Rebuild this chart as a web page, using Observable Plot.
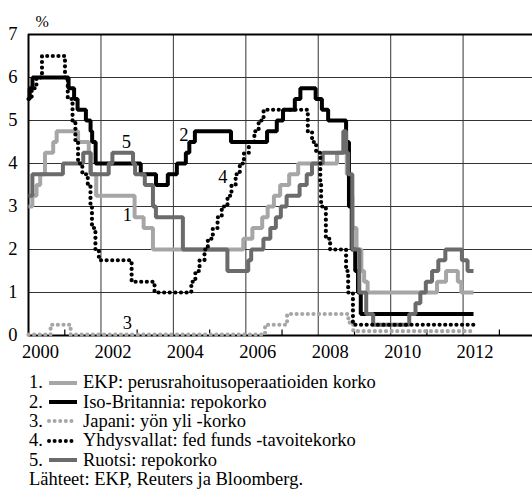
<!DOCTYPE html>
<html><head><meta charset="utf-8">
<script src="https://cdn.jsdelivr.net/npm/d3@7"></script>
<script src="https://cdn.jsdelivr.net/npm/@observablehq/plot@0.6"></script>
<style>
body{margin:0;background:#fff;font-family:'Liberation Serif';}
#wrap{position:relative;width:532px;height:499px;overflow:hidden;font-family:'Liberation Serif';}
svg text, svg{font-family:'Liberation Serif' !important;}
#legend{position:absolute;left:29px;top:373px;font-size:18.5px;color:#000;font-family:'Liberation Serif';}
.row{height:19.4px;display:flex;align-items:center;white-space:nowrap;}
.row .n{width:18px;}
.row svg{margin:0 4px 0 0;}
</style></head><body><div id="wrap"><div id="chart"></div><div id="legend"></div></div>
<script>
// ---- data ----
const endDate = "2012-04-15";
const ecbDates = ["2000-01-01","2000-02-09","2000-03-22","2000-04-28","2000-06-15","2000-09-06","2000-10-11","2001-05-15","2001-08-31","2001-09-18","2001-11-14","2002-12-06","2003-03-07","2003-06-09","2005-12-06","2006-03-08","2006-06-15","2006-08-09","2006-10-11","2006-12-13","2007-03-14","2007-06-13","2008-07-09","2008-10-15","2008-11-12","2008-12-10","2009-01-21","2009-03-11","2009-04-08","2009-05-13","2011-04-13","2011-07-13","2011-11-09","2011-12-14"];
const ecbRates = [3.00,3.25,3.50,3.75,4.25,4.50,4.75,4.50,4.25,3.75,3.25,2.75,2.50,2.00,2.25,2.50,2.75,3.00,3.25,3.50,3.75,4.00,4.25,3.75,3.25,2.50,2.00,1.50,1.25,1.00,1.25,1.50,1.25,1.00];
const ukDates = ["2000-01-01","2000-01-13","2000-02-10","2001-02-08","2001-04-05","2001-05-10","2001-08-02","2001-09-18","2001-10-04","2001-11-08","2003-02-06","2003-07-10","2003-11-06","2004-02-05","2004-05-06","2004-06-10","2004-08-05","2005-08-04","2006-08-03","2006-11-09","2007-01-11","2007-05-10","2007-07-05","2007-12-06","2008-02-07","2008-04-10","2008-10-08","2008-11-06","2008-12-04","2009-01-08","2009-02-05","2009-03-05"];
const ukRates = [5.50,5.75,6.00,5.75,5.50,5.25,5.00,4.75,4.50,4.00,3.75,3.50,3.75,4.00,4.25,4.50,4.75,4.50,4.75,5.00,5.25,5.50,5.75,5.50,5.25,5.00,4.50,3.00,2.00,1.50,1.00,0.50];
const jpDates = ["2000-01-01","2000-08-11","2001-03-01","2006-07-14","2007-02-21","2008-10-31","2008-12-19"];
const jpRates = [0.02,0.25,0.02,0.25,0.50,0.30,0.10];
const usDates = ["2000-01-01","2000-02-02","2000-03-21","2000-05-16","2001-01-03","2001-01-31","2001-03-20","2001-04-18","2001-05-15","2001-06-27","2001-08-21","2001-09-17","2001-10-02","2001-11-06","2001-12-11","2002-11-06","2003-06-25","2004-06-30","2004-08-10","2004-09-21","2004-11-10","2004-12-14","2005-02-02","2005-03-22","2005-05-03","2005-06-30","2005-08-09","2005-09-20","2005-11-01","2005-12-13","2006-01-31","2006-03-28","2006-05-10","2006-06-29","2007-09-18","2007-10-31","2007-12-11","2008-01-22","2008-01-30","2008-03-18","2008-04-30","2008-10-08","2008-10-29","2008-12-16"];
const usRates = [5.50,5.75,6.00,6.50,6.00,5.50,5.00,4.50,4.00,3.75,3.50,3.00,2.50,2.00,1.75,1.25,1.00,1.25,1.50,1.75,2.00,2.25,2.50,2.75,3.00,3.25,3.50,3.75,4.00,4.25,4.50,4.75,5.00,5.25,4.75,4.50,4.25,3.50,3.00,2.25,2.00,1.50,1.00,0.25];
const seDates = ["2000-01-01","2000-02-09","2000-12-13","2001-07-06","2001-09-19","2002-03-20","2002-04-26","2002-11-20","2002-12-11","2003-03-19","2003-06-09","2003-07-09","2004-04-06","2005-06-29","2006-01-25","2006-02-24","2006-06-27","2006-09-05","2006-10-31","2006-12-20","2007-02-16","2007-06-27","2007-09-07","2007-10-30","2008-02-15","2008-09-10","2008-10-08","2008-10-29","2008-12-10","2009-02-18","2009-04-29","2009-07-08","2010-07-07","2010-09-08","2010-10-27","2010-12-21","2011-02-22","2011-04-26","2011-07-06","2011-12-20","2012-02-15"];
const seRates = [3.25,3.75,4.00,4.25,3.75,4.00,4.25,4.00,3.75,3.50,3.00,2.75,2.00,1.50,1.75,2.00,2.25,2.50,2.75,3.00,3.25,3.50,3.75,4.00,4.25,4.75,4.25,3.75,2.00,1.00,0.50,0.25,0.50,0.75,1.00,1.25,1.50,1.75,2.00,1.75,1.50];
const yTicks = [0,1,2,3,4,5,6,7];
const labelYears = [2000,2002,2004,2006,2008,2010,2012];
const minorTickYears = [2001,2003,2005,2007,2009,2011,2013];
const lineLabels = ["1","2","3","4","5"];
const lineLabelDates = ["2002-09-25","2004-04-15","2002-09-25","2005-05-15","2002-09-15"];
const lineLabelValues = [2.79,4.65,0.30,3.69,4.50];
const legendTexts = ["EKP: perusrahoitusoperaatioiden korko","Iso-Britannia: repokorko","Japani: yön yli -korko","Yhdysvallat: fed funds -tavoitekorko","Ruotsi: repokorko"];
const sourceText = "Lähteet: EKP, Reuters ja Bloomberg.";

// ---- build ----
const pd = s => new Date(s + "T00:00:00Z");
function series(dates, rates){
  const a = dates.map((d,i)=>({date:pd(d), rate:rates[i]}));
  a.push({date:pd(endDate), rate:rates[rates.length-1]});
  return a;
}
const LIGHT = "#a6a6a6", DARK = "#6b6b6b";
const styles = [
  {data:series(ecbDates,ecbRates), stroke:LIGHT, dash:null},
  {data:series(ukDates,ukRates), stroke:"#000", dash:null},
  {data:series(jpDates,jpRates), stroke:LIGHT, dash:"0.01,5.6"},
  {data:series(usDates,usRates), stroke:"#000", dash:"0.01,5.6"},
  {data:series(seDates,seRates), stroke:DARK, dash:null}
];
const drawOrder = [0,2,1,4,3];
const yr = y => new Date(Date.UTC(y,0,1));
const labels = lineLabels.map((t,i)=>({t, date:pd(lineLabelDates[i]), v:lineLabelValues[i]}));
const FONT = "'Liberation Serif'";

const chart = Plot.plot({
  width: 532, height: 362,
  marginTop: 34, marginBottom: 27, marginLeft: 28, marginRight: 0,
  style: {fontFamily: FONT, fontSize: "18.5px", color: "#000", background: "#fff"},
  x: {type: "utc", domain: [yr(2000), pd("2013-12-01")]},
  y: {domain: [0, 7]},
  marks: [
    Plot.ruleY(yTicks.slice(1,7), {stroke:"#333", strokeWidth:1}),
    Plot.ruleX(labelYears.slice(1).map(yr), {stroke:"#333", strokeWidth:1}),
    Plot.ruleX(minorTickYears.map(yr), {y1:0, y2:0.13, stroke:"#000", strokeWidth:1.2}),
    Plot.ruleY([7], {stroke:"#000", strokeWidth:2}),
    Plot.ruleY([0], {stroke:"#000", strokeWidth:2}),
    Plot.ruleX([yr(2000)], {stroke:"#000", strokeWidth:2}),
    ...drawOrder.map(i => Plot.line(styles[i].data, {
      x:"date", y:"rate", curve:"step-after", stroke:styles[i].stroke,
      strokeWidth: styles[i].dash ? 4.2 : 4,
      strokeDasharray: styles[i].dash || undefined,
      strokeLinecap: styles[i].dash ? "round" : "butt",
      strokeLinejoin: "miter"
    })),
    Plot.text(labels, {x:"date", y:"v", text:"t", fontSize:18.5, fontFamily:FONT, fill:"#000"}),
    Plot.axisY(yTicks, {tickSize:0, tickPadding:11, fontSize:18.5, fontFamily:FONT}),
    Plot.axisX(labelYears.map(yr), {tickSize:0, tickPadding:9, dx:12, fontSize:18.5, fontFamily:FONT, tickFormat: d => String(d.getUTCFullYear())}),
    Plot.text(["%"], {frameAnchor:"top-left", dx:7, dy:-19, fontSize:16, fontFamily:FONT})
  ]
});
document.getElementById("chart").appendChild(chart);

// legend
const leg = document.getElementById("legend");
styles.forEach((s,i)=>{
  const row = document.createElement("div"); row.className="row";
  const n = document.createElement("span"); n.className="n"; n.textContent = (i+1)+".";
  row.appendChild(n);
  const svg = d3.create("svg").attr("width",32).attr("height",10);
  svg.append("line").attr("x1",2).attr("x2",30).attr("y1",5).attr("y2",5)
    .attr("stroke",s.stroke).attr("stroke-width",4)
    .attr("stroke-dasharray", s.dash ? "0.01,5.6" : null)
    .attr("stroke-linecap", s.dash ? "round" : "butt");
  row.appendChild(svg.node());
  const t = document.createElement("span"); t.textContent = legendTexts[i];
  row.appendChild(t);
  leg.appendChild(row);
});
const src = document.createElement("div"); src.className="row"; src.textContent = sourceText;
leg.appendChild(src);
</script></body></html>
